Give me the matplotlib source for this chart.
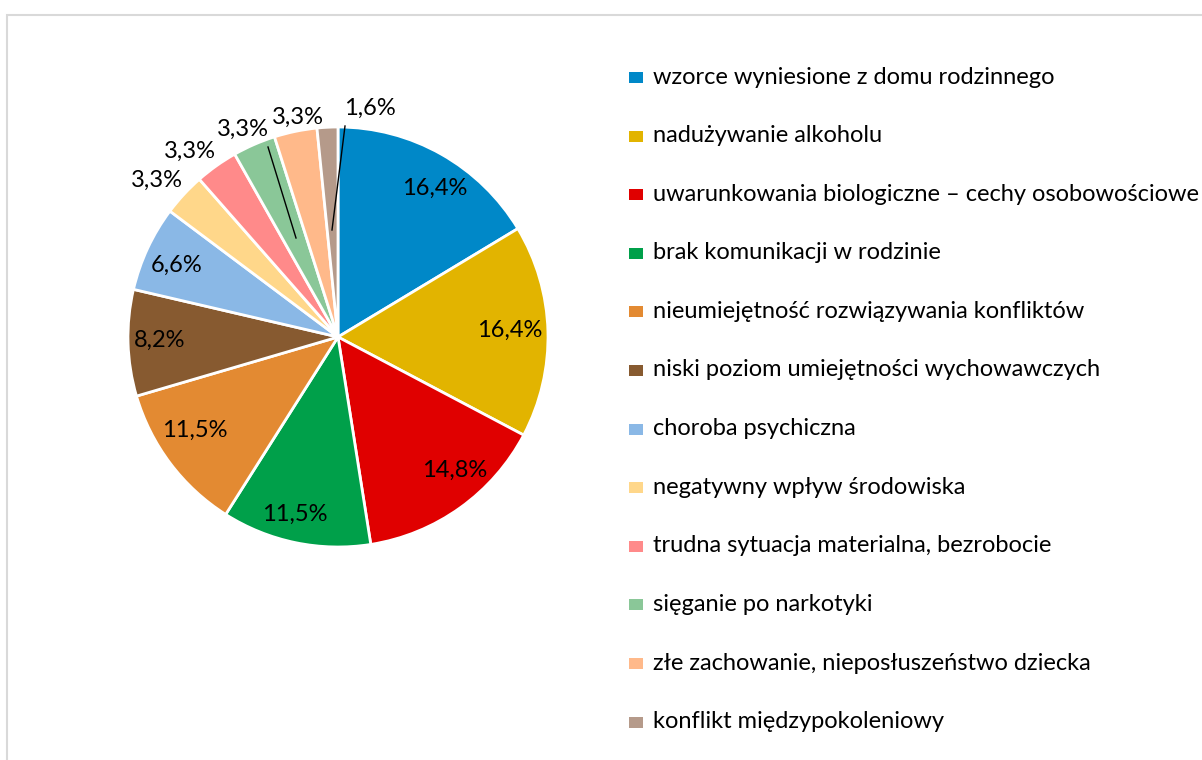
import matplotlib
matplotlib.use("Agg")
import matplotlib.pyplot as plt
from matplotlib.patches import Rectangle

plt.rcParams['font.family'] = ['Lato', 'DejaVu Sans']

categories = [
    "wzorce wyniesione z domu rodzinnego",
    "nadużywanie alkoholu",
    "uwarunkowania biologiczne – cechy osobowościowe",
    "brak komunikacji w rodzinie",
    "nieumiejętność rozwiązywania konfliktów",
    "niski poziom umiejętności wychowawczych",
    "choroba psychiczna",
    "negatywny wpływ środowiska",
    "trudna sytuacja materialna, bezrobocie",
    "sięganie po narkotyki",
    "złe zachowanie, nieposłuszeństwo dziecka",
    "konflikt międzypokoleniowy",
]
values = [16.4, 16.4, 14.8, 11.5, 11.5, 8.2, 6.6, 3.3, 3.3, 3.3, 3.3, 1.6]
colors = ["#0088C8", "#E2B400", "#E00000", "#00A04A", "#E38A32", "#875A30",
          "#8AB8E6", "#FFD78A", "#FF8A8A", "#8AC798", "#FFB98A", "#B59A8A"]

W, H = 1202, 760
fig = plt.figure(figsize=(W / 100, H / 100), dpi=100)

# outer frame
fig.patches.append(Rectangle((7 / W, -0.05), 1.2, (760 - 15) / H + 0.05,
                             transform=fig.transFigure, fill=False,
                             edgecolor="#D9D9D9", linewidth=1.5))

cx, cy, R = 338, 337, 210
half = 300
ax = fig.add_axes([(cx - half) / W, (H - cy - half) / H, 2 * half / W, 2 * half / H])

wedges, _ = ax.pie(values, colors=colors, startangle=90, counterclock=False,
                   radius=1.0, wedgeprops=dict(edgecolor="white", linewidth=2))
lim = half / R
ax.set_xlim(-lim, lim)
ax.set_ylim(-lim, lim)
ax.set_aspect('equal')
ax.axis('off')

def fmt(v):
    return f"{v:.1f}%".replace(".", ",")

fs_pie = 17
fs_leg = 17
# inside labels (pixel offsets from center)
inside_pos = [(97, -149), (172, -7), (117, 133), (-43, 177), (-143, 93), (-178, 3), (-161, -72)]
for i, (dx, dy) in enumerate(inside_pos):
    ax.text(dx / R, -dy / R, fmt(values[i]), ha='center', va='center', fontsize=fs_pie, color='black')

# outside labels
outside_pos = [(157, 180), (190, 151), (243, 129), (298, 117), (370, 108)]
for j, (px, py) in enumerate(outside_pos):
    i = 7 + j
    ax.text((px - cx) / R, -(py - cy) / R, fmt(values[i]), ha='center', va='center',
            fontsize=fs_pie, color='black')

# leader lines
ax.plot([(268 - cx) / R, (296 - cx) / R], [-(147 - cy) / R, -(238 - cy) / R], color='black', lw=1)
ax.plot([(345 - cx) / R, (332 - cx) / R], [-(126 - cy) / R, -(230 - cy) / R], color='black', lw=1)

# legend
y0, dy = 77, 58.6
for k, (lab, col) in enumerate(zip(categories, colors)):
    y = y0 + k * dy
    fig.patches.append(Rectangle((629 / W, (H - y - 6) / H), 14 / W, 11 / H,
                                 transform=fig.transFigure, facecolor=col, edgecolor='none'))
    fig.text(653 / W, (H - y) / H, lab, ha='left', va='center', fontsize=fs_leg, color='black')

fig.savefig("out.png", dpi=100)
